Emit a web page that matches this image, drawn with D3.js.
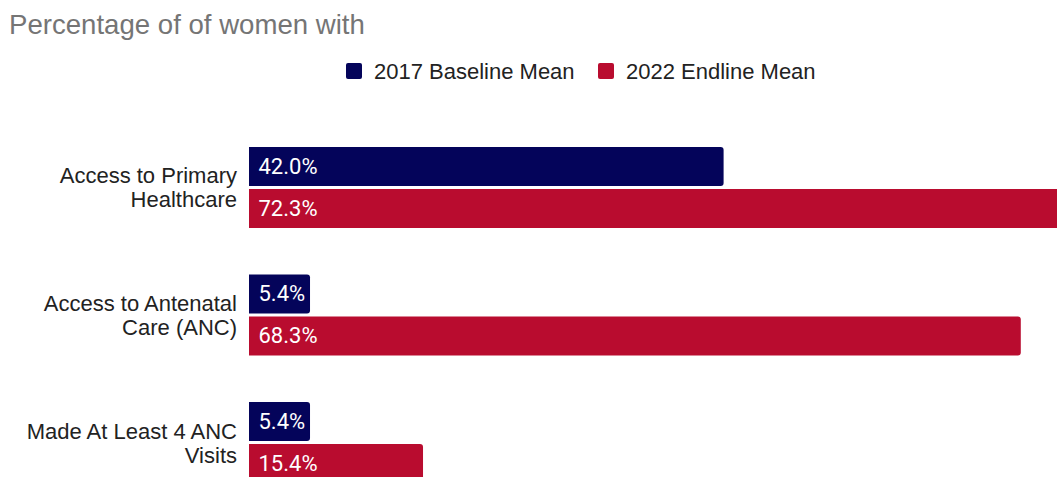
<!DOCTYPE html>
<html>
<head>
<meta charset="utf-8">
<script src="https://cdn.jsdelivr.net/npm/d3@7"></script>
<style>
  html, body { margin: 0; padding: 0; background: #fff; }
  svg { display: block; }
</style>
</head>
<body>
<svg id="chart" width="1057" height="477"></svg>
<script>
// Indicator categories (each label split over two lines)
const categories = [
  ["Access to Primary", "Healthcare"],
  ["Access to Antenatal", "Care (ANC)"],
  ["Made At Least 4 ANC", "Visits"]
];
const seriesNames = ["2017 Baseline Mean", "2022 Endline Mean"];
const baselineValues = [42.0, 5.4, 5.4];
const endlineValues = [72.3, 68.3, 15.4];
const seriesColors = ["#04045a", "#b90c2f"];
const titleText = "Percentage of of women with";

const svg = d3.select("#chart");

const seriesValues = [baselineValues, endlineValues];
const groupIdx = d3.range(categories.length);

const x = d3.scaleLinear().domain([0, 80]).range([249, 1153]);
const y0 = d3.scaleBand().domain(groupIdx).range([147, 483]).paddingInner(0.365).paddingOuter(0);
const y1 = d3.scaleBand().domain([0, 1]).range([0, y0.bandwidth()]).paddingInner(3 / 42).paddingOuter(0);

// Title
svg.append("text")
  .attr("x", 9).attr("y", 34)
  .attr("font-family", "'Liberation Sans', Arial, sans-serif")
  .attr("font-size", 27.6)
  .attr("fill", "#757575")
  .text(titleText);

// Legend
const legendX = [346, 598];
const legend = svg.append("g");
seriesNames.forEach((name, i) => {
  const g = legend.append("g").attr("transform", `translate(${legendX[i]},63)`);
  g.append("rect").attr("width", 16).attr("height", 16).attr("rx", 2).attr("fill", seriesColors[i]);
  g.append("text")
    .attr("x", 28).attr("y", 15.5)
    .attr("font-family", "'Liberation Sans', Arial, sans-serif")
    .attr("font-size", 22)
    .attr("fill", "#222")
    .text(name);
});

// Bar with square left edge and rounded right corners
function barPath(x0, x1, yt, h, r) {
  r = Math.min(r, (x1 - x0) / 2, h / 2);
  return `M${x0},${yt}H${x1 - r}Q${x1},${yt} ${x1},${yt + r}V${yt + h - r}Q${x1},${yt + h} ${x1 - r},${yt + h}H${x0}Z`;
}

const groups = svg.append("g").selectAll("g")
  .data(groupIdx).join("g")
  .attr("transform", d => `translate(0,${y0(d)})`);

// Category labels
groups.append("text")
  .attr("x", 237)
  .attr("text-anchor", "end")
  .attr("font-family", "'Liberation Sans', Arial, sans-serif")
  .attr("font-size", 22)
  .attr("fill", "#222")
  .selectAll("tspan")
  .data(d => categories[d].map((line, j) => ({ line, j, n: categories[d].length })))
  .join("tspan")
  .attr("x", 237)
  .attr("y", d => y0.bandwidth() / 2 + (d.j - (d.n - 1) / 2) * 24 + 8)
  .text(d => d.line);

// Bars and value labels
groups.each(function (gi) {
  const g = d3.select(this);
  const rows = seriesValues.map((vals, si) => ({ si, v: vals[gi] }));
  g.selectAll("path.bar").data(rows).join("path")
    .attr("class", "bar")
    .attr("d", d => barPath(x(0), x(d.v), y1(d.si), y1.bandwidth(), 3))
    .attr("fill", d => seriesColors[d.si]);
  g.selectAll("text.val").data(rows).join("text")
    .attr("class", "val")
    .attr("x", x(0) + 9.5)
    .attr("y", d => y1(d.si) + y1.bandwidth() / 2 + 7.5)
    .attr("font-family", "Roboto, 'Noto Sans', sans-serif")
    .attr("font-size", 22)
    .attr("fill", "#fff")
    .text(d => d.v.toFixed(1) + "%");
});
</script>
</body>
</html>
